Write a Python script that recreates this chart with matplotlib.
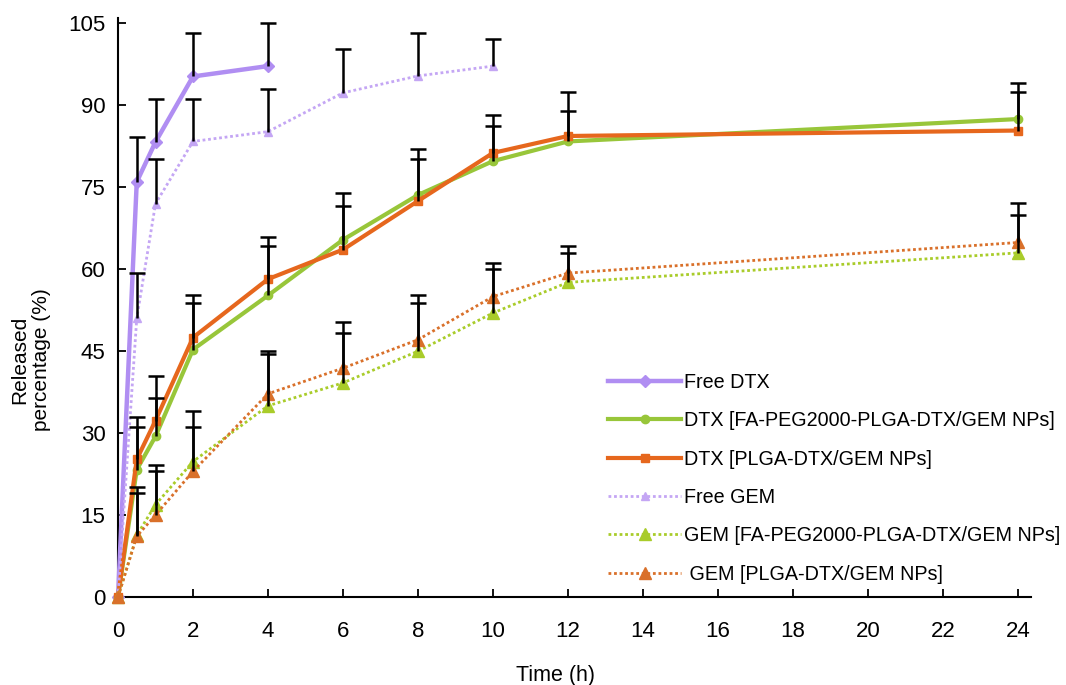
import numpy as np
import matplotlib.pyplot as plt

plt.rcParams['font.family'] = ['Liberation Sans', 'DejaVu Sans']

# release data (time in h, released %)
t_free_dtx = [0, 0.5, 1, 2, 4]
free_dtx = [0, 76.0, 83.3, 95.3, 97.2]
free_dtx_err = [0, 8.2, 7.9, 8.0, 7.9]

t_free_gem = [0, 0.5, 1, 2, 4, 6, 8, 10]
free_gem = [0, 51.0, 72.0, 83.4, 85.2, 92.3, 95.4, 97.2]
free_gem_err = [0, 8.4, 8.2, 7.8, 7.8, 8.1, 7.9, 5.0]

t_np = [0, 0.5, 1, 2, 4, 6, 8, 10, 12, 24]
dtx_fa = [0, 23.3, 29.4, 45.3, 55.2, 65.4, 73.6, 79.8, 83.4, 87.5]
dtx_fa_err = [0, 7.9, 7.1, 8.5, 9.0, 8.6, 8.5, 6.4, 5.6, 6.6]
dtx_plga = [0, 25.2, 32.3, 47.5, 58.2, 63.6, 72.5, 81.3, 84.4, 85.4]
dtx_plga_err = [0, 7.7, 8.1, 7.7, 7.7, 7.9, 7.7, 7.0, 8.0, 7.0]
gem_fa = [0, 11.3, 16.9, 24.8, 35.0, 39.2, 45.0, 52.0, 57.6, 63.0]
gem_fa_err = [0, 7.7, 7.3, 9.2, 9.5, 9.1, 8.8, 8.0, 5.3, 7.0]
gem_plga = [0, 11.1, 15.0, 23.0, 37.2, 41.9, 47.1, 55.0, 59.3, 64.9]
gem_plga_err = [0, 9.0, 8.0, 8.2, 7.9, 8.4, 8.2, 6.1, 5.0, 7.2]

labels = ["Free DTX", "DTX [FA-PEG2000-PLGA-DTX/GEM NPs]", "DTX [PLGA-DTX/GEM NPs]",
          "Free GEM", "GEM [FA-PEG2000-PLGA-DTX/GEM NPs]", " GEM [PLGA-DTX/GEM NPs]"]

fig = plt.figure(figsize=(10.66, 6.85), dpi=100)
ax = fig.add_axes([0.1107, 0.1285, 0.8565, 0.8452])

series = [
    (t_free_dtx, free_dtx, free_dtx_err, "#b08ef2", "-", 3.2, "D", 6),
    (t_np, dtx_fa, dtx_fa_err, "#98c63a", "-", 3.0, "o", 6),
    (t_np, dtx_plga, dtx_plga_err, "#e6671d", "-", 3.0, "s", 6),
    (t_free_gem, free_gem, free_gem_err, "#c4a6f4", (0, (1, 1)), 2.0, "^", 6),
    (t_np, gem_fa, gem_fa_err, "#a9cc2a", (0, (1, 1)), 2.0, "^", 9),
    (t_np, gem_plga, gem_plga_err, "#d9702a", (0, (1, 1)), 2.0, "^", 9),
]

# upward-only error bars, cap only at the top
for t, y, e, c, ls, lw, mk, ms in series:
    low = np.zeros(len(e))
    top = np.array(y) + np.array(e)
    ax.errorbar(t, y, yerr=[low, e], fmt="none", ecolor="black",
                elinewidth=1.8, capsize=0, zorder=4, clip_on=False)
    ax.plot(np.array(t)[1:], top[1:], linestyle="none", marker="_", markersize=12,
            markeredgewidth=1.8, color="black", zorder=4, clip_on=False)

for (t, y, e, c, ls, lw, mk, ms), lab in zip(series, labels):
    ax.plot(t, y, color=c, linestyle=ls, linewidth=lw, marker=mk, markersize=ms,
            markerfacecolor=c, markeredgecolor=c, label=lab, zorder=3, clip_on=False)

ax.set_xlim(0, 24.35)
ax.set_ylim(0, 106)
ax.set_xticks(np.arange(0, 25, 2))
ax.set_yticks(np.arange(0, 106, 15))
ax.spines["top"].set_visible(False)
ax.spines["right"].set_visible(False)
ax.spines["left"].set_linewidth(1.5)
ax.spines["bottom"].set_linewidth(1.5)
ax.tick_params(axis="both", direction="in", length=6, width=1.3, labelsize=16)
ax.tick_params(axis="x", pad=17)
ax.tick_params(axis="y", pad=9)

ax.text(-0.096, 0.41, "Released\npercentage (%)", transform=ax.transAxes,
        rotation=90, ha="center", va="center", fontsize=15, linespacing=1.2)
ax.text(0.479, -0.135, "Time (h)", transform=ax.transAxes,
        ha="center", va="center", fontsize=15.5)

ax.legend(loc="upper left", bbox_to_anchor=(0.537, 0.387), frameon=False,
          fontsize=14.2, handlelength=3.7, handletextpad=0.15, labelspacing=0.98,
          borderpad=0, borderaxespad=0, markerscale=1.0)

fig.savefig("out.png", dpi=100)
